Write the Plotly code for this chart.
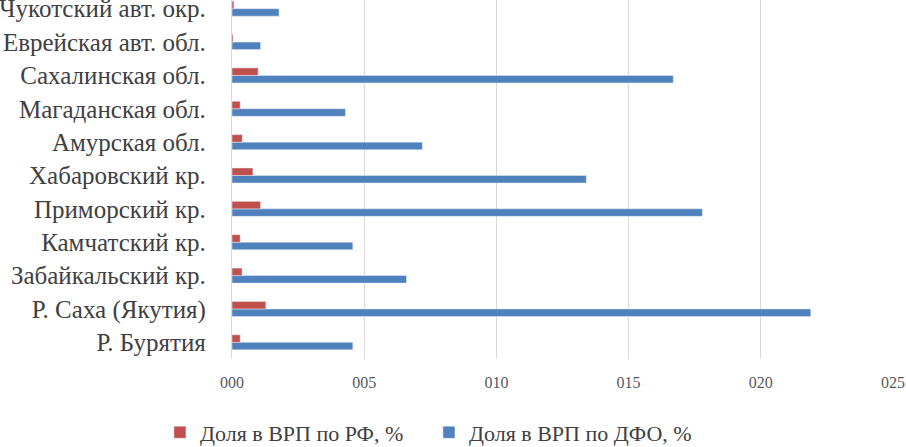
import plotly.graph_objects as go

regions = ["Р. Бурятия", "Р. Саха (Якутия)", "Забайкальский кр.", "Камчатский кр.",
           "Приморский кр.", "Хабаровский кр.", "Амурская обл.", "Магаданская обл.",
           "Сахалинская обл.", "Еврейская авт. обл.", "Чукотский авт. окр."]
share_rf = [0.0031, 0.0128, 0.0038, 0.0031, 0.0108, 0.0079, 0.0039, 0.0031, 0.0099, 0.0004, 0.0007]
share_dfo = [0.0457, 0.2189, 0.0660, 0.0457, 0.1779, 0.1340, 0.0720, 0.0429, 0.1669, 0.0108, 0.0178]
tick_vals = [0, 0.05, 0.10, 0.15, 0.20, 0.25]
tick_text = ["000", "005", "010", "015", "020", "025"]

RED = "#C0504D"
BLUE = "#4F81BD"
FONT = "Liberation Serif"

fig = go.Figure()
fig.add_trace(go.Bar(y=regions, x=share_dfo, orientation="h", name="Доля в ВРП по ДФО, %",
                     marker=dict(color=BLUE), legendrank=2))
fig.add_trace(go.Bar(y=regions, x=share_rf, orientation="h", name="Доля в ВРП по РФ, %",
                     marker=dict(color=RED), legendrank=1))

fig.update_layout(
    width=906, height=447,
    margin=dict(l=232, r=13, t=0, b=88, autoexpand=False),
    paper_bgcolor="white", plot_bgcolor="white",
    barmode="group", bargap=0.55, bargroupgap=0,
    font=dict(family=FONT, color="#404040"),
    showlegend=True,
    legend=dict(orientation="h", x=-0.109, xanchor="left", y=-0.146, yanchor="top",
                font=dict(family=FONT, size=22, color="#404040"),
                itemwidth=30, entrywidth=224, entrywidthmode="pixels", traceorder="normal"),
    xaxis=dict(range=[0, 0.25], tickvals=tick_vals, ticktext=tick_text,
               showgrid=True, gridcolor="#D9D9D9", gridwidth=1.3, zeroline=False,
               showline=False, ticks="", tickfont=dict(family=FONT, size=16, color="#595959"),
               ticklabelstandoff=12),
    yaxis=dict(range=[-0.5, 10.26], showgrid=False, showline=True, linecolor="#D9D9D9",
               linewidth=1.3, ticks="", tickfont=dict(family=FONT, size=25, color="#404040"),
               ticklabelstandoff=20),
)

fig.write_html("out.html", config={"displayModeBar": False},
               post_script="document.body.style.margin='0';document.body.style.padding='0';")
